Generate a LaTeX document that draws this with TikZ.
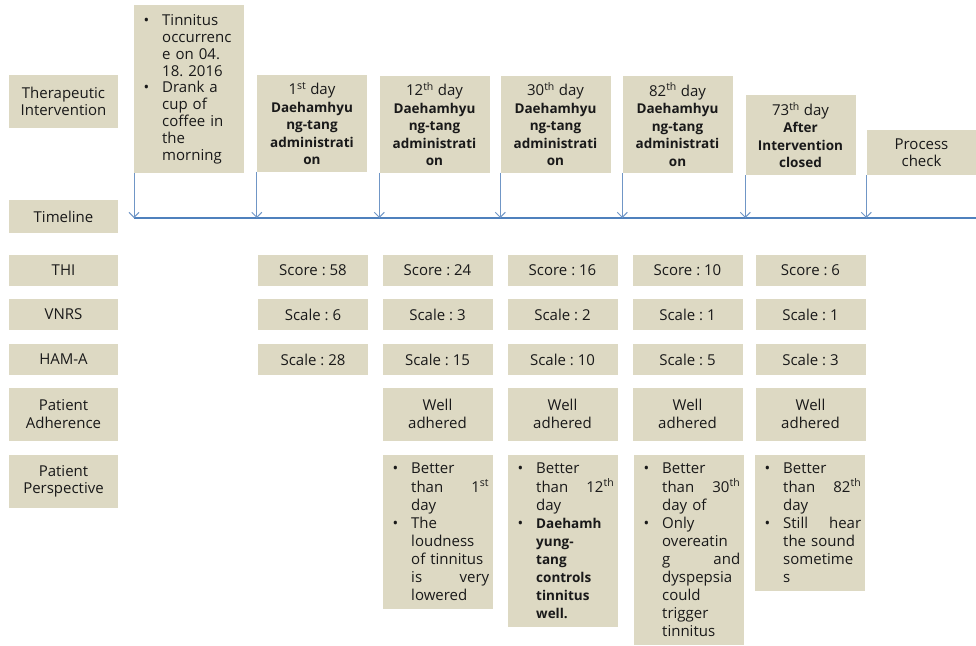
\documentclass[tikz,border=0pt]{standalone}
\usepackage{fontspec}
\setmainfont{Open Sans}
\usepackage{xcolor}
\usepackage{tikz}
\usetikzlibrary{arrows.meta}
\definecolor{boxfill}{RGB}{221,217,195}
\definecolor{tlblue}{RGB}{79,129,189}
\definecolor{arrblue}{RGB}{112,150,198}
\frenchspacing
% bullet hanging in the left margin of a list box
\newcommand{\itm}{\leavevmode\llap{\textbullet\hspace{13pt}}}
\newcommand{\bulset}{\leftskip=24pt\rightskip=0pt plus 1fil}
\newcommand{\bd}[1]{{\fontsize{13.5}{17.5}\selectfont\bfseries #1}}

\begin{document}
\begin{tikzpicture}[
  x=1pt, y=-1pt,
  every node/.style={font=\fontsize{15}{17.5}\selectfont, text=black!90},
  box/.style={fill=boxfill, inner sep=0, align=center},
  cell/.style={box, minimum width=110pt, minimum height=31pt},
  lbl/.style={box, minimum width=109pt},
  evt/.style={box, minimum width=110pt},
  bul/.style={fill=boxfill, text width=102pt, inner xsep=4pt, inner ysep=8pt,
              align=left, anchor=north west},
  arr/.style={draw=arrblue, line width=1pt, -{Straight Barb[length=5pt, width=10pt]}},
  tline/.style={draw=tlblue, line width=2pt},
]
\clip (0,0) rectangle (976,645);
% ---- row labels
\node[lbl, minimum height=53pt] (lbther) at (63.5,101.5) {Therapeutic\\Intervention};
\node[lbl, minimum height=33pt] (lbtime) at (63.5,216.5) {Timeline};
\node[lbl, minimum height=31pt] (lbthi) at (63.5,270) {THI};
\node[lbl, minimum height=31pt] (lbvnrs) at (63.5,314.5) {VNRS};
\node[lbl, minimum height=31pt] (lbham) at (63.5,359.5) {HAM-A};
\node[lbl, minimum height=53pt] (lbadh) at (63.5,414) {Patient\\Adherence};
\node[lbl, minimum height=53pt] (lbper) at (63.5,481.5) {Patient\\Perspective};
% ---- events above the timeline
\node[bul, inner ysep=5pt, minimum height=168pt, font=\fontsize{15}{16.9}\selectfont]
  (ev0) at (134,5) {\bulset
  \itm Tinnitus\\ occurrenc\\ e on 04.\\ 18. 2016\\
  \itm Drank a\\ cup of\\ coffee in\\ the\\ morning\par};
\node[evt, minimum height=97pt] (ev1) at (312,123.5)
  {1\textsuperscript{st} day\\ \bd{Daehamhyu}\\ \bd{ng-tang}\\ \bd{administrati}\\ \bd{on}};
\node[evt, minimum height=97pt] (ev2) at (434.5,124)
  {12\textsuperscript{th} day\\ \bd{Daehamhyu}\\ \bd{ng-tang}\\ \bd{administrati}\\ \bd{on}};
\node[evt, minimum height=97pt] (ev3) at (555.5,124)
  {30\textsuperscript{th} day\\ \bd{Daehamhyu}\\ \bd{ng-tang}\\ \bd{administrati}\\ \bd{on}};
\node[evt, minimum height=97pt] (ev4) at (677.5,124.5)
  {82\textsuperscript{th} day\\ \bd{Daehamhyu}\\ \bd{ng-tang}\\ \bd{administrati}\\ \bd{on}};
\node[evt, minimum height=80pt] (ev5) at (800.5,135)
  {73\textsuperscript{th} day\\ \bd{After}\\ \bd{Intervention}\\ \bd{closed}};
\node[evt, minimum height=45pt] (ev6) at (921.5,152.5) {Process\\check};
% ---- timeline
\coordinate (tl) at (134,218);
\coordinate (tlend) at (976,218);
\draw[tline] (tl) -- (tlend);
\foreach \e in {0,...,6} {
  \draw[arr] (ev\e.south west) -- (ev\e.south west |- tl);
}
% ---- scores per visit
\foreach \c/\xc/\thi/\vnrs/\hama in {1/313/58/6/28, 2/437.5/24/3/15,
    3/562.5/16/2/10, 4/687.5/10/1/5, 5/810.5/6/1/3} {
  \node[cell] (thi\c) at (\xc,270) {Score : \thi};
  \node[cell] (vnrs\c) at (\xc,314.5) {Scale : \vnrs};
  \node[cell] (ham\c) at (\xc,359.5) {Scale : \hama};
}
\foreach \c/\xc in {2/437.5, 3/562.5, 4/687.5, 5/810.5} {
  \node[cell, minimum height=53pt] (adh\c) at (\xc,414) {Well\\adhered};
}
% ---- patient perspective
\begin{scope}[every node/.style={font=\fontsize{15}{18.1}\selectfont, text=black!90}]
\node[bul] (per2) at (383,455) {\bulset
  \itm Better\\ than\hfill 1\textsuperscript{st}\\ day\\
  \itm The\\ loudness\\ of tinnitus\\ is\hfill very\\ lowered\par};
\node[bul] (per3) at (508,455) {\bulset
  \itm Better\\ than\hfill 12\textsuperscript{th}\\ day\\
  \itm\bd{Daehamh}\\ \bd{yung-}\\ \bd{tang}\\ \bd{controls}\\
  \bd{tinnitus}\\ \bd{well.}\par};
\node[bul] (per4) at (634,455) {\bulset
  \itm Better\\ than\hfill 30\textsuperscript{th}\\ day of\\
  \itm Only\\ overeatin\\ g\hfill and\\ dyspepsia\\ could\\ trigger\\ tinnitus\par};
\node[bul] (per5) at (755,455) {\bulset
  \itm Better\\ than\hfill 82\textsuperscript{th}\\ day\\
  \itm Still\hfill hear\\ the sound\\ sometime\\ s\par};
\end{scope}
\end{tikzpicture}
\end{document}
